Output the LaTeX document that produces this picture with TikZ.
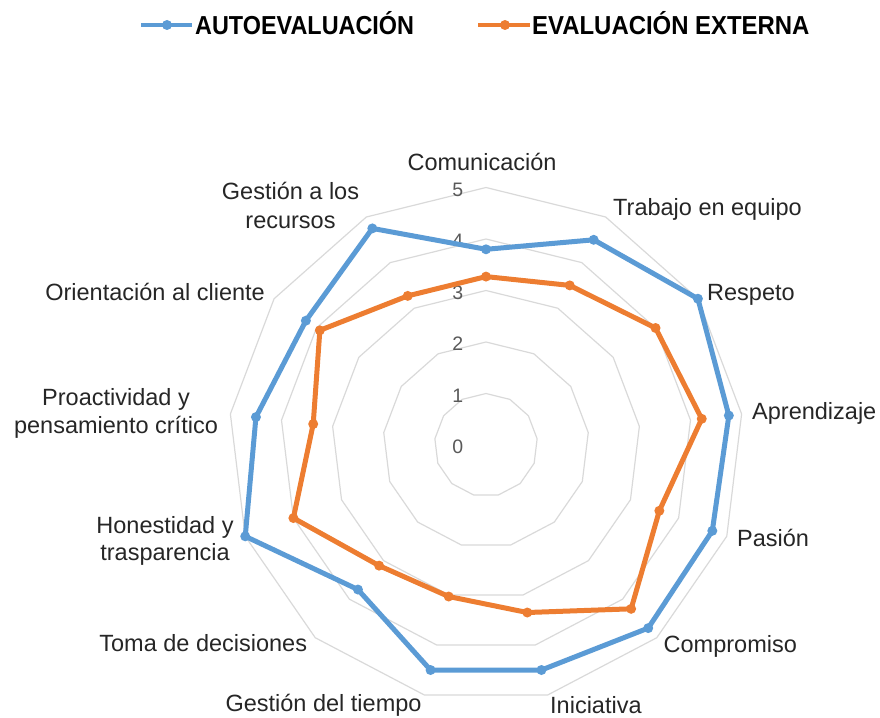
\documentclass[tikz,border=0pt]{standalone}
\usepackage{fontspec}
\setmainfont{Liberation Sans}
\usepackage{graphicx}
\definecolor{serA}{HTML}{5B9BD5}
\definecolor{serB}{HTML}{ED7D31}
\definecolor{gridc}{HTML}{D9D9D9}
\definecolor{tickc}{HTML}{595959}
\definecolor{labc}{HTML}{262626}
\begin{document}
\begin{tikzpicture}[x=1pt,y=-1pt,
  cat/.style={font=\fontsize{23.5}{28}\selectfont, text=labc, inner sep=0pt},
  ticklab/.style={font=\fontsize{19.5}{23}\selectfont, text=tickc, inner sep=0pt, anchor=base},
  ring/.style={draw=gridc, line width=1.2pt, line join=round},
  seriesline/.style={line width=5pt, line join=round},
  legline/.style={line width=4.5pt},
  legtext/.style={font=\bfseries\fontsize{26}{30}\selectfont, text=black, inner sep=0pt, anchor=base west}]
\useasboundingbox (0,0) rectangle (880,717);
\def\cx{486}
\def\cy{445}
\def\u{51.5}
% grid rings
\foreach \k in {1,...,5}{
  \draw[ring] ({\cx},{\cy-\k*\u}) \foreach \j in {1,...,12}{ -- ({\cx+\k*\u*sin(\j*360/13)},{\cy-\k*\u*cos(\j*360/13)})} -- cycle;
}
% tick labels
\foreach \k in {0,...,5}{
  \node[ticklab] (tick\k) at (457.7,{\cy-\k*\u+8.5}) {\k};
}
% data
\foreach \v [count=\i from 0] in {3.8,4.5,5,4.75,4.7,4.75,4.5,4.5,3.75,5,4.5,4.25,4.75}
  \coordinate (b\i) at ({\cx+\v*\u*sin(\i*360/13)},{\cy-\v*\u*cos(\i*360/13)});
\foreach \v [count=\i from 0] in {3.27,3.5,4,4.22,3.6,4.25,3.35,3.03,3.13,4,3.38,3.92,3.27}
  \coordinate (o\i) at ({\cx+\v*\u*sin(\i*360/13)},{\cy-\v*\u*cos(\i*360/13)});
\draw[seriesline, draw=serA] (b0) \foreach \i in {1,...,12}{ -- (b\i)} -- cycle;
\foreach \i in {0,...,12} \fill[serA] (b\i) circle (5pt);
\draw[seriesline, draw=serB] (o0) \foreach \i in {1,...,12}{ -- (o\i)} -- cycle;
\foreach \i in {0,...,12} \fill[serB] (o\i) circle (5pt);
% category labels
\node[cat, anchor=base] (lComu) at (482,170) {Comunicación};
\node[cat, anchor=base west] (lTrab) at (613,215) {Trabajo en equipo};
\node[cat, anchor=base west] (lResp) at (707,300) {Respeto};
\node[cat, anchor=base west] (lApre) at (752,419.3) {Aprendizaje};
\node[cat, anchor=base west] (lPasi) at (737,546.7) {Pasión};
\node[cat, anchor=base west] (lComp) at (663.5,652.3) {Compromiso};
\node[cat, anchor=base west] (lInic) at (550,713.3) {Iniciativa};
\node[cat, anchor=base east] (lGtie) at (421.7,711.7) {Gestión del tiempo};
\node[cat, anchor=base east] (lToma) at (307.3,651.7) {Toma de decisiones};
\node[cat, anchor=base] (lHon1) at (165,533.3) {Honestidad y};
\node[cat, anchor=base] (lHon2) at (165,560.7) {trasparencia};
\node[cat, anchor=base] (lPro1) at (116,405) {Proactividad y};
\node[cat, anchor=base] (lPro2) at (116,433.3) {pensamiento crítico};
\node[cat, anchor=base east] (lOrie) at (265,300.7) {Orientación al cliente};
\node[cat, anchor=base] (lGre1) at (290.5,199.3) {Gestión a los};
\node[cat, anchor=base] (lGre2) at (290.5,228.3) {recursos};
% legend
\coordinate (lgA1) at (141,25);
\coordinate (lgA2) at (192,25);
\coordinate (lgAm) at (167,25);
\coordinate (lgB1) at (478,25);
\coordinate (lgB2) at (530,25);
\coordinate (lgBm) at (505,25);
\draw[legline, draw=serA] (lgA1) -- (lgA2);
\fill[serA] (lgAm) circle (5pt);
\draw[legline, draw=serB] (lgB1) -- (lgB2);
\fill[serB] (lgBm) circle (5pt);
\node[legtext] (legA) at (195,34.3) {\scalebox{0.9}[1]{AUTOEVALUACIÓN}};
\node[legtext] (legB) at (532,34.3) {\scalebox{0.92}[1]{EVALUACIÓN EXTERNA}};
\end{tikzpicture}
\end{document}
